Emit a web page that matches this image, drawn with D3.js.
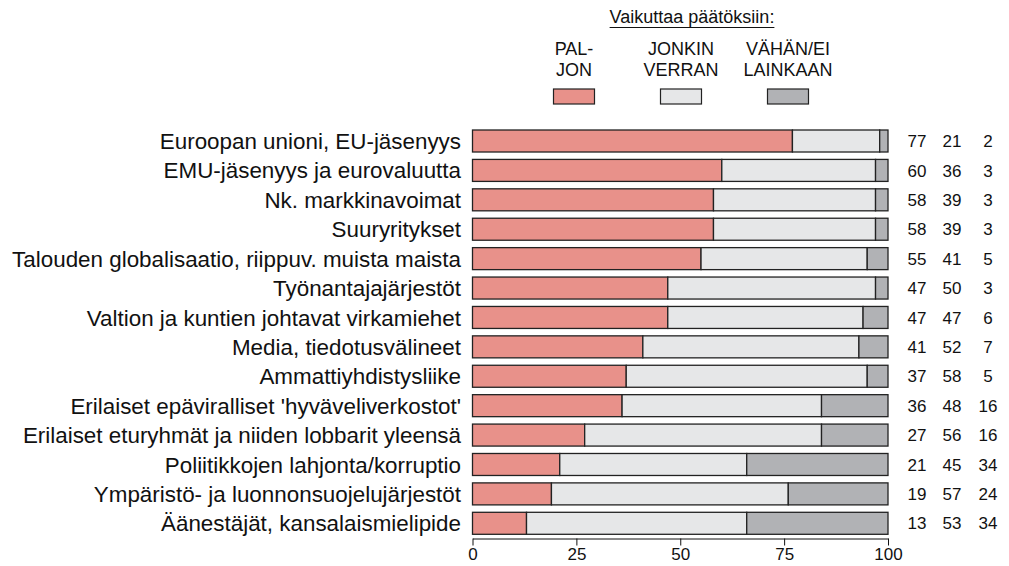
<!DOCTYPE html>
<meta charset="utf-8">
<style>
body { margin: 0; background: #fff; }
svg { display: block; font-family: "Liberation Sans", Arial, sans-serif; }
.cat text { font-size: 22.4px; fill: #111; }
.vals text { font-size: 17px; fill: #111; }
.axis text { font-size: 17px; fill: #111; }
.legend text { font-size: 18px; fill: #111; }
</style>
<svg width="1009" height="566"></svg>
<script src="https://d3js.org/d3.v7.min.js"></script>
<script>

// data
var categories = [
  "Euroopan unioni, EU-jäsenyys",
  "EMU-jäsenyys ja eurovaluutta",
  "Nk. markkinavoimat",
  "Suuryritykset",
  "Talouden globalisaatio, riippuv. muista maista",
  "Työnantajajärjestöt",
  "Valtion ja kuntien johtavat virkamiehet",
  "Media, tiedotusvälineet",
  "Ammattiyhdistysliike",
  "Erilaiset epäviralliset 'hyväveliverkostot'",
  "Erilaiset eturyhmät ja niiden lobbarit yleensä",
  "Poliitikkojen lahjonta/korruptio",
  "Ympäristö- ja luonnonsuojelujärjestöt",
  "Äänestäjät, kansalaismielipide"
];
var paljon = [77, 60, 58, 58, 55, 47, 47, 41, 37, 36, 27, 21, 19, 13];
var jonkin = [21, 36, 39, 39, 41, 50, 47, 52, 58, 48, 56, 45, 57, 53];
var vahan  = [2, 3, 3, 3, 5, 3, 6, 7, 5, 16, 16, 34, 24, 34];

var legendTitle = "Vaikuttaa päätöksiin:";
var legendLabels = [["PAL-", "JON"], ["JONKIN", "VERRAN"], ["VÄHÄN/EI", "LAINKAAN"]];
var colours = ["#e8918a", "#e6e7e8", "#b1b2b5"];
var ticks = [0, 25, 50, 75, 100];

var svg = d3.select("svg");

var x = d3.scaleLinear().domain([0, 100]).range([472.5, 888]);
var y = d3.scaleBand().domain(d3.range(categories.length))
    .range([126.3, 538]).paddingInner(0.252).paddingOuter(0.126);

// stacked segments; the grey one is anchored to 100 like the original
var rows = categories.map(function(c, i) {
  return {
    i: i,
    segs: [
      [0, paljon[i]],
      [paljon[i], 100 - vahan[i]],
      [100 - vahan[i], 100]
    ]
  };
});

var bars = svg.append("g").selectAll("g")
    .data(rows)
    .enter().append("g");

bars.selectAll("rect")
    .data(function(d) { return d.segs.map(function(s, k) { return {s: s, k: k, i: d.i}; }); })
    .enter().append("rect")
    .attr("x", function(d) { return x(d.s[0]); })
    .attr("y", function(d) { return y(d.i); })
    .attr("width", function(d) { return x(d.s[1]) - x(d.s[0]); })
    .attr("height", y.bandwidth())
    .attr("fill", function(d) { return colours[d.k]; })
    .attr("stroke", "#222")
    .attr("stroke-width", 1.3);

// category labels
svg.append("g").attr("class", "cat").selectAll("text")
    .data(categories)
    .enter().append("text")
    .attr("x", 461)
    .attr("y", function(d, i) { return y(i) + y.bandwidth() / 2; })
    .attr("dy", "0.36em")
    .attr("text-anchor", "end")
    .text(function(d) { return d; });

// value columns
var colX = [917, 952, 988];
var vals = svg.append("g").attr("class", "vals");
[paljon, jonkin, vahan].forEach(function(arr, k) {
  vals.selectAll(".c" + k)
      .data(arr)
      .enter().append("text")
      .attr("class", "c" + k)
      .attr("x", colX[k])
      .attr("y", function(d, i) { return y(i) + y.bandwidth() / 2; })
      .attr("dy", "0.36em")
      .attr("text-anchor", "middle")
      .text(function(d) { return d; });
});

// x axis
var axis = svg.append("g")
    .attr("class", "axis")
    .attr("transform", "translate(0,538.5)")
    .call(d3.axisBottom(x).tickValues(ticks).tickSize(7).tickPadding(2).tickSizeOuter(0));
axis.select(".domain").attr("stroke", "#111");
axis.selectAll(".tick line").attr("stroke", "#111");
axis.selectAll("text").attr("font-size", null).attr("font-family", null);

// legend
var lg = svg.append("g").attr("class", "legend");
var lx = d3.scalePoint().domain(d3.range(3)).range([574, 788]);

var title = lg.append("text")
    .attr("x", 692)
    .attr("y", 23)
    .attr("text-anchor", "middle")
    .text(legendTitle);
var tw = title.node().getComputedTextLength();
lg.append("line")
    .attr("x1", 692 - tw / 2).attr("x2", 692 + tw / 2)
    .attr("y1", 27.5).attr("y2", 27.5)
    .attr("stroke", "#111").attr("stroke-width", 1);

var items = lg.selectAll(".item")
    .data(legendLabels)
    .enter().append("g")
    .attr("class", "item")
    .attr("transform", function(d, i) { return "translate(" + lx(i) + ",0)"; });

items.selectAll("text")
    .data(function(d) { return d; })
    .enter().append("text")
    .attr("x", 0)
    .attr("y", function(d, j) { return 55 + j * 21; })
    .attr("text-anchor", "middle")
    .text(function(d) { return d; });

items.append("rect")
    .attr("x", -20.5)
    .attr("y", 89)
    .attr("width", 41)
    .attr("height", 15)
    .attr("fill", function(d, i) { return colours[i]; })
    .attr("stroke", "#222")
    .attr("stroke-width", 1.2);

</script>
